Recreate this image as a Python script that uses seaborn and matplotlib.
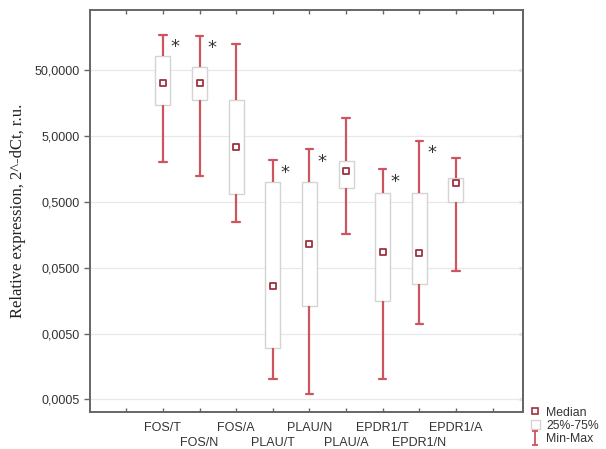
import numpy as np
import pandas as pd
import matplotlib
matplotlib.use("Agg")
import matplotlib.pyplot as plt
import matplotlib.ticker as mticker
import seaborn as sns
from matplotlib.lines import Line2D
from matplotlib.patches import Patch
from matplotlib.path import Path

categories = ["FOS/T", "FOS/N", "FOS/A", "PLAU/T", "PLAU/N", "PLAU/A",
              "EPDR1/T", "EPDR1/N", "EPDR1/A"]
mins    = [2.03, 1.23, 0.247, 0.00101, 0.000605, 0.162, 0.00101, 0.00706, 0.045]
q1s     = [14.7, 17.5, 0.65, 0.00305, 0.0131, 0.80, 0.0158, 0.028, 0.50]
medians = [32.0, 32.0, 3.36, 0.0264, 0.113, 1.47, 0.0875, 0.0828, 0.955]
q3s     = [81.5, 56.0, 17.5, 0.99, 0.99, 2.08, 0.687, 0.687, 1.14]
maxs    = [170.0, 166.0, 123.0, 2.13, 3.13, 9.44, 1.56, 4.23, 2.29]
significant = [True, True, False, True, True, False, True, True, False]
ytick_values = [0.0005, 0.005, 0.05, 0.5, 5, 50]
ytick_labels = ["0,0005", "0,0050", "0,0500", "0,5000", "5,0000", "50,0000"]

rows = []
for c, a, b, m, d, e in zip(categories, mins, q1s, medians, q3s, maxs):
    for v in (a, b, m, d, e):
        rows.append({"group": c, "value": v})
df = pd.DataFrame(rows)
med_df = pd.DataFrame({"group": categories, "value": medians})

sns.set_style("white")
plt.rcParams["font.family"] = ["Liberation Sans", "DejaVu Sans"]

RED = "#cc5560"
DARKRED = "#a03040"
BOXEDGE = "#d4d4d4"
FRAME = "#666666"

fig = plt.figure(figsize=(6.06, 4.49), dpi=100)
ax = fig.add_axes([90 / 606, 1 - 412 / 449, (523 - 90) / 606, (412 - 10) / 449])
ax.set_yscale("log")

sns.boxplot(data=df, x="group", y="value", order=categories, ax=ax,
            whis=(0, 100), width=0.41, color="white", linecolor=BOXEDGE,
            linewidth=1.0, fliersize=0,
            whiskerprops=dict(color=RED, linewidth=1.6),
            capprops=dict(color=RED, linewidth=1.6),
            medianprops=dict(linewidth=0, alpha=0))

sns.stripplot(data=med_df, x="group", y="value", order=categories, ax=ax,
              jitter=False, marker="s", size=5, color="white",
              edgecolor=DARKRED, linewidth=1.3, zorder=5)

for i, (mx, sig) in enumerate(zip(maxs, significant)):
    if sig:
        ax.annotate("*", xy=(i, mx), xytext=(9, -9), textcoords="offset points",
                    fontsize=13, ha="center", va="center", color="#333333",
                    family="DejaVu Sans")

ax.set_ylim(0.000323, 406.9)
ax.set_xlim(-1.99, 9.83)
ax.set_yticks(ytick_values)
ax.set_yticklabels(ytick_labels)
ax.yaxis.set_minor_locator(mticker.NullLocator())

n = len(categories)
major_pos = [-1] + list(range(0, n, 2)) + [n]
major_lab = [""] + [categories[i] for i in range(0, n, 2)] + [""]
minor_pos = list(range(1, n, 2))
minor_lab = [categories[i] for i in range(1, n, 2)]
ax.xaxis.set_major_locator(mticker.FixedLocator(major_pos))
ax.xaxis.set_major_formatter(mticker.FixedFormatter(major_lab))
ax.xaxis.set_minor_locator(mticker.FixedLocator(minor_pos))
ax.xaxis.set_minor_formatter(mticker.FixedFormatter(minor_lab))
ax.set_xlabel("")
ax.set_ylabel("Relative expression, 2^-dCt, r.u.", family=["Liberation Serif"],
              fontsize=12, color="#222222", labelpad=6)

ax.grid(axis="y", which="major", color="#e8e8e8", linewidth=0.9)
ax.grid(axis="x", which="both", visible=False)
ax.set_axisbelow(True)
for s in ax.spines.values():
    s.set_color(FRAME)
    s.set_linewidth(1.4)

ax.tick_params(axis="y", which="major", direction="out", length=4, width=1,
               color=FRAME, labelsize=9, labelcolor="#333333", left=True, right=False)
ax.tick_params(axis="x", which="major", direction="in", length=3, width=1,
               color=FRAME, labelsize=9, labelcolor="#333333",
               bottom=True, top=True, pad=7)
ax.tick_params(axis="x", which="minor", direction="in", length=3, width=1,
               color=FRAME, labelsize=9, labelcolor="#333333",
               bottom=True, top=True, pad=18)

sec = ax.secondary_yaxis("right")
sec.set_yticks(ytick_values)
sec.yaxis.set_minor_locator(mticker.NullLocator())
sec.tick_params(axis="y", which="major", direction="in", length=3, width=1,
                color=FRAME, labelright=False)
sec.spines["right"].set_color(FRAME)
sec.spines["right"].set_linewidth(1.4)

# legend
imark = Path([(-0.5, 1), (0.5, 1), (0, 1), (0, -1), (-0.5, -1), (0.5, -1)],
             [Path.MOVETO, Path.LINETO, Path.MOVETO, Path.LINETO, Path.MOVETO, Path.LINETO])
handles = [
    Line2D([], [], linestyle="none", marker="s", markersize=4.5,
           markerfacecolor="white", markeredgecolor=DARKRED, markeredgewidth=1.2),
    Patch(facecolor="white", edgecolor=BOXEDGE, linewidth=1.0),
    Line2D([], [], linestyle="none", marker=imark, markersize=10,
           markeredgecolor=RED, markeredgewidth=1.3),
]
fig.legend(handles, ["Median", "25%-75%", "Min-Max"], loc="upper left",
           bbox_to_anchor=(522 / 606, 1 - 398 / 449), frameon=False,
           fontsize=8.8, handlelength=0.8, handleheight=0.8, handletextpad=0.5,
           labelspacing=0.12, borderpad=0.2, labelcolor="#333333")

fig.savefig("out.png", dpi=100)
